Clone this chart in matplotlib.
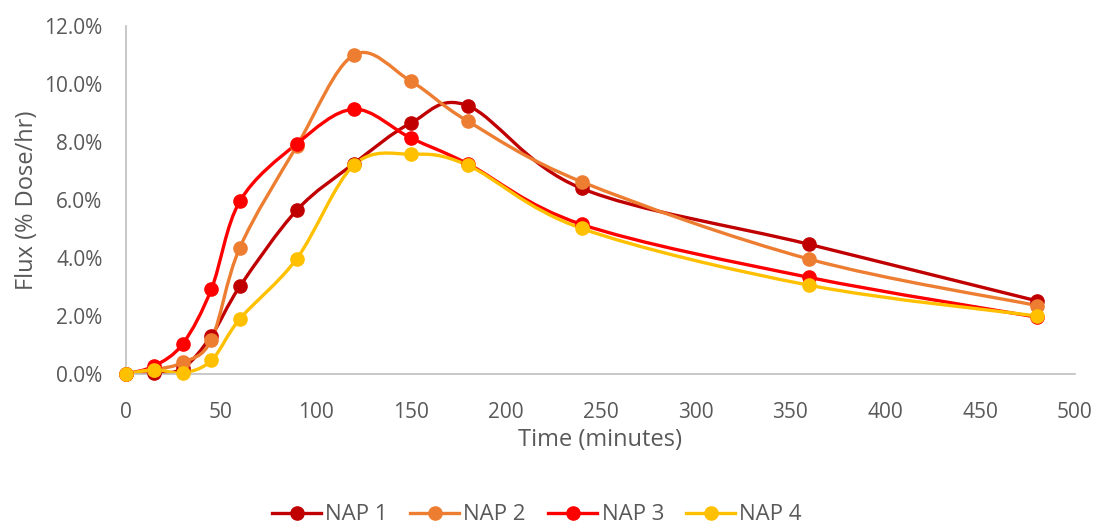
import numpy as np
import matplotlib
matplotlib.use('Agg')
import matplotlib.pyplot as plt
from matplotlib.path import Path
from matplotlib.patches import PathPatch
from matplotlib.lines import Line2D
from matplotlib.ticker import FuncFormatter, MultipleLocator

plt.rcParams['font.family'] = ['Open Sans', 'DejaVu Sans']

# sampling times (minutes)
time_min = [0, 15, 30, 45, 60, 90, 120, 150, 180, 240, 360, 480]

# flux, % of dose per hour
nap1 = [0.0, 0.02, 0.2, 1.32, 3.02, 5.65, 7.25, 8.65, 9.25, 6.4, 4.47, 2.52]
nap2 = [0.0, 0.15, 0.4, 1.18, 4.36, 7.86, 11.0, 10.1, 8.72, 6.63, 3.96, 2.36]
nap3 = [0.0, 0.28, 1.05, 2.93, 5.96, 7.94, 9.13, 8.14, 7.25, 5.16, 3.33, 1.96]
nap4 = [0.0, 0.15, 0.04, 0.47, 1.9, 3.98, 7.2, 7.58, 7.2, 5.02, 3.06, 2.0]

series_names = ['NAP 1', 'NAP 2', 'NAP 3', 'NAP 4']
series_vals = [nap1, nap2, nap3, nap4]
colors = ['#C00000', '#ED7D31', '#FF0000', '#FFC000']

W, H = 1100, 527
fig = plt.figure(figsize=(W / 100, H / 100), dpi=100)
ax = fig.add_axes([126 / W, 1 - 374 / H, (1075 - 126) / W, (374 - 26) / H])

XMAX, YMAX = 500, 12.0
sx = (1075 - 126) / XMAX
sy = (374 - 26) / YMAX


def smooth_path(x, y):
    # Catmull-Rom style bezier through the points, built in screen proportions
    px = np.asarray(x, float) * sx
    py = np.asarray(y, float) * sy
    n = len(px)
    verts = [(px[0], py[0])]
    codes = [Path.MOVETO]
    for i in range(n - 1):
        p0 = i - 1 if i > 0 else i
        p3 = i + 2 if i + 2 < n else i + 1
        c1 = (px[i] + (px[i + 1] - px[p0]) / 6, py[i] + (py[i + 1] - py[p0]) / 6)
        c2 = (px[i + 1] - (px[p3] - px[i]) / 6, py[i + 1] - (py[p3] - py[i]) / 6)
        verts += [c1, c2, (px[i + 1], py[i + 1])]
        codes += [Path.CURVE4] * 3
    verts = [(vx / sx, vy / sy) for vx, vy in verts]
    return Path(verts, codes)


for name, vals, c in zip(series_names, series_vals, colors):
    ax.add_patch(PathPatch(smooth_path(time_min, vals), facecolor='none',
                           edgecolor=c, lw=2.4, capstyle='round', zorder=2))
    ax.plot(time_min, vals, ls='none', marker='o', ms=9.5, color=c, zorder=3)

ax.set_xlim(0, XMAX)
ax.set_ylim(0, YMAX)
ax.xaxis.set_major_locator(MultipleLocator(50))
ax.yaxis.set_major_locator(MultipleLocator(2))
ax.yaxis.set_major_formatter(FuncFormatter(lambda v, p: f'{v:.1f}%'))
ax.tick_params(length=0, labelsize=15, colors='#595959')
ax.tick_params(axis='x', pad=20)
ax.tick_params(axis='y', pad=17)
for s in ['top', 'right']:
    ax.spines[s].set_visible(False)
for s in ['left', 'bottom']:
    ax.spines[s].set_color('#BFBFBF')
    ax.spines[s].set_linewidth(1.2)
for ln in ax.lines:
    ln.set_clip_on(False)

ax.set_xlabel('Time (minutes)', fontsize=17, color='#595959', labelpad=4)
ax.set_ylabel('Flux (% Dose/hr)', fontsize=17, color='#595959', labelpad=4)

handles = [Line2D([0], [0], color=c, lw=2.4, marker='o', ms=9.5) for c in colors]
fig.legend(handles, series_names, loc='center', bbox_to_anchor=(537 / W, 1 - 515 / H),
           ncol=4, frameon=False, fontsize=16, labelcolor='#595959',
           handlelength=2.2, handletextpad=0.2, columnspacing=1.0)

fig.savefig('out.png', dpi=100)
